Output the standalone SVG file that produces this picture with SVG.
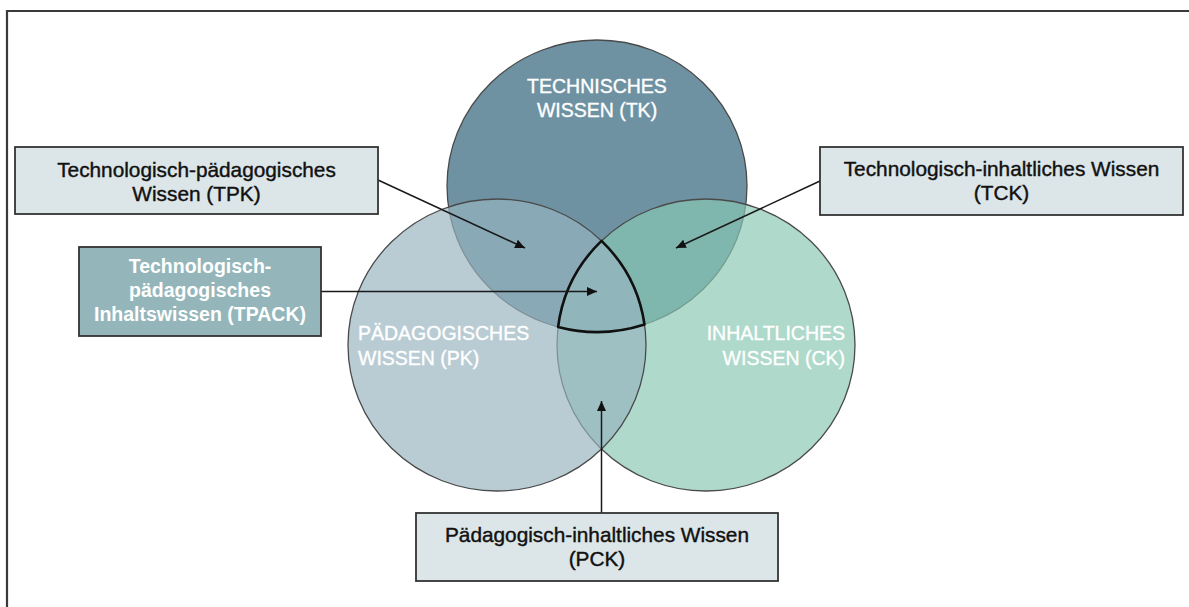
<svg xmlns="http://www.w3.org/2000/svg" width="1189" height="607" viewBox="0 0 1189 607">
  <defs>
    <marker id="arrow" markerUnits="userSpaceOnUse" markerWidth="11" markerHeight="9" refX="10" refY="4.5" orient="auto">
      <path d="M0,0 L10,4.5 L0,9 Z" fill="#111"/>
    </marker>
  </defs>
  <style>
    .frame { fill: none; stroke: #3a3a3a; stroke-width: 2.2; }
    .circle { stroke: #4a4a4a; stroke-width: 1.3; }
    .ctext { font-family: "Liberation Sans", Arial, sans-serif; font-size: 19.5px; fill: #ffffff; stroke: #ffffff; stroke-width: 0.35; }
    .box { fill: #dce5e8; stroke: #333; stroke-width: 1.8; }
    .boxdark { fill: #94b6ba; stroke: #333; stroke-width: 1.8; }
    .btext { font-family: "Liberation Sans", Arial, sans-serif; font-size: 20.8px; fill: #111; stroke: #111; stroke-width: 0.4; text-anchor: middle; }
    .wtext { font-family: "Liberation Sans", Arial, sans-serif; font-size: 19.5px; font-weight: bold; fill: #ffffff; text-anchor: middle; }
    .conn { fill: none; stroke: #1a1a1a; stroke-width: 1.5; marker-end: url(#arrow); }
  </style>
  <rect width="1189" height="607" fill="#ffffff"/>
  <path class="frame" d="M7,607 V11 H1189"/>

  <g id="tk">
    <ellipse class="circle" cx="597" cy="186" rx="150" ry="146" fill="#6e92a2"/>
  </g>
  <g id="ck">
    <ellipse class="circle" cx="706" cy="345" rx="149" ry="146" fill="#88c7b2" fill-opacity="0.68"/>
  </g>
  <g id="pk">
    <ellipse class="circle" cx="497" cy="345" rx="149" ry="146" fill="#98b4c0" fill-opacity="0.68"/>
  </g>
  <g id="tpack-region">
    <path d="M601.5,240.9 A149,146 0 0 0 558.1,326.9 A150,146 0 0 0 644.5,324.5 A149,146 0 0 0 601.5,240.9 Z" fill="none" stroke="#111" stroke-width="2.6" stroke-linejoin="round"/>
  </g>

  <g id="tk-label">
    <text class="ctext" x="597" y="93" text-anchor="middle">TECHNISCHES</text>
    <text class="ctext" x="597" y="117" text-anchor="middle">WISSEN (TK)</text>
  </g>
  <g id="pk-label">
    <text class="ctext" x="358" y="340">PÄDAGOGISCHES</text>
    <text class="ctext" x="358" y="365">WISSEN (PK)</text>
  </g>
  <g id="ck-label">
    <text class="ctext" x="845" y="340" text-anchor="end">INHALTLICHES</text>
    <text class="ctext" x="845" y="365" text-anchor="end">WISSEN (CK)</text>
  </g>

  <g id="connectors">
    <line class="conn" x1="378" y1="180" x2="525" y2="248"/>
    <line class="conn" x1="820" y1="181" x2="676" y2="248"/>
    <line class="conn" x1="321" y1="291.5" x2="597" y2="291.5"/>
    <line class="conn" x1="601.5" y1="513" x2="601.5" y2="401"/>
  </g>

  <g id="tpk">
    <rect class="box" x="15" y="147" width="363" height="67"/>
    <text class="btext" x="196.5" y="177">Technologisch-pädagogisches</text>
    <text class="btext" x="196.5" y="200.5">Wissen (TPK)</text>
  </g>
  <g id="tck">
    <rect class="box" x="820" y="147" width="363" height="68"/>
    <text class="btext" x="1001.5" y="176">Technologisch-inhaltliches Wissen</text>
    <text class="btext" x="1001.5" y="200">(TCK)</text>
  </g>
  <g id="tpack">
    <rect class="boxdark" x="79" y="247" width="242" height="89"/>
    <text class="wtext" x="200" y="273">Technologisch-</text>
    <text class="wtext" x="200" y="297">pädagogisches</text>
    <text class="wtext" x="200" y="321">Inhaltswissen (TPACK)</text>
  </g>
  <g id="pck">
    <rect class="box" x="416" y="513" width="362" height="68"/>
    <text class="btext" x="597" y="542">Pädagogisch-inhaltliches Wissen</text>
    <text class="btext" x="597" y="566">(PCK)</text>
  </g>
</svg>
